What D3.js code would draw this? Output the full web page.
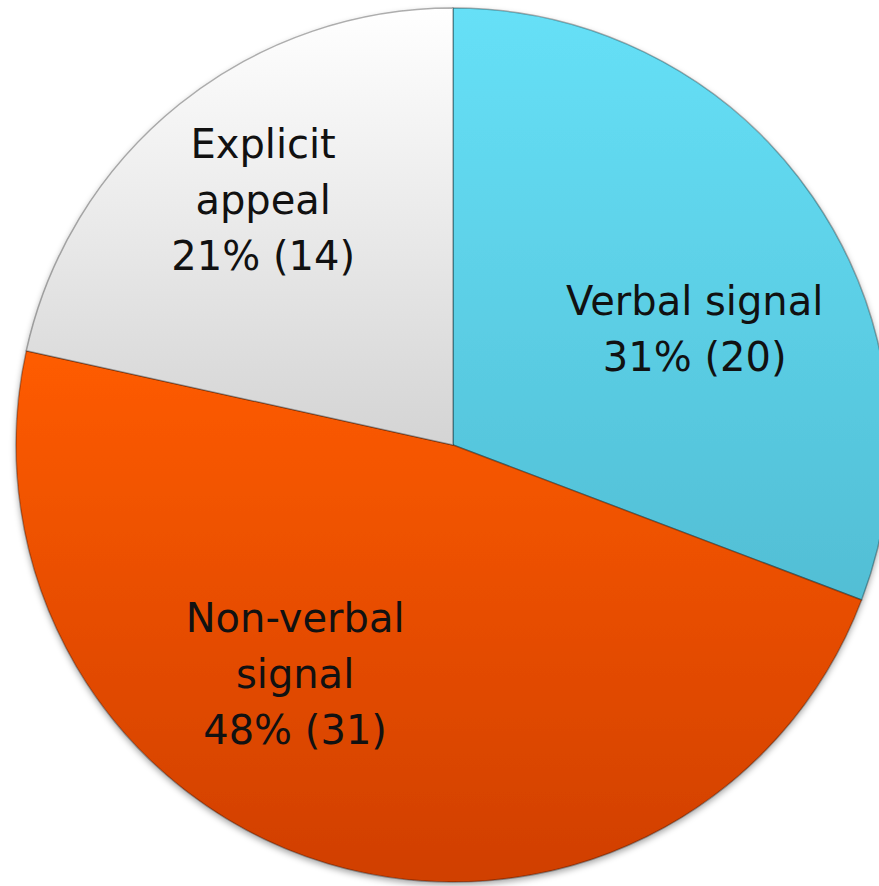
<!DOCTYPE html>
<html lang="en">
<head>
    <meta charset="UTF-8">
    <title>Signal types</title>
    <script src="https://d3js.org/d3.v7.min.js"></script>
    <style>
        body { margin: 0; background: #fff; }
        svg { display: block; }
        .label { font-family: "DejaVu Sans", Verdana, sans-serif; font-size: 40px; fill: #111; text-anchor: middle; }
    </style>
</head>
<body>
<div id="chart"></div>
<script>
    // data
    const categories = ["Verbal signal", "Non-verbal signal", "Explicit appeal"];
    const counts = [20, 31, 14];
    const percents = ["31%", "48%", "21%"];
    const labelLines = [["Verbal signal"], ["Non-verbal", "signal"], ["Explicit", "appeal"]];

    // colours: top / bottom of each slice gradient
    const topColors = ["#66e0f7", "#ff5c00", "#ffffff"];
    const bottomColors = ["#48aec4", "#d03f00", "#d4d4d4"];

    const width = 879, height = 886;
    const cx = 453, cy = 445, r = 437;

    const svg = d3.select("#chart").append("svg")
        .attr("width", width)
        .attr("height", height);

    const defs = svg.append("defs");

    // soft shadow under the pie
    const shadow = defs.append("filter").attr("id", "shadow")
        .attr("x", "-10%").attr("y", "-10%").attr("width", "120%").attr("height", "120%");
    shadow.append("feDropShadow")
        .attr("dx", 0).attr("dy", 3).attr("stdDeviation", 3)
        .attr("flood-color", "#000").attr("flood-opacity", 0.35);

    categories.forEach((c, i) => {
        const g = defs.append("linearGradient")
            .attr("id", "grad" + i)
            .attr("gradientUnits", "userSpaceOnUse")
            .attr("x1", 0).attr("x2", 0)
            .attr("y1", i === 1 ? -100 : -r).attr("y2", i === 2 ? 0 : r);
        g.append("stop").attr("offset", "0%").attr("stop-color", topColors[i]);
        g.append("stop").attr("offset", "100%").attr("stop-color", bottomColors[i]);
    });

    const pie = d3.pie().sort(null).value(d => d)(counts);
    const arc = d3.arc().innerRadius(0).outerRadius(r);

    const g = svg.append("g").attr("transform", `translate(${cx},${cy})`);

    g.append("g").attr("filter", "url(#shadow)")
        .selectAll("path")
        .data(pie)
        .enter()
        .append("path")
        .attr("d", arc)
        .attr("fill", (d, i) => `url(#grad${i})`)
        .attr("stroke", "rgba(0,0,0,0.3)")
        .attr("stroke-width", 1.5)
        .attr("stroke-linejoin", "round");

    // labels: radius and angle tweak relative to slice middle
    const labelRadius = [268, 278, 310];
    const angleShift = [9, 18, 1];
    const lineH = 56;

    pie.forEach((d, i) => {
        const mid = (d.startAngle + d.endAngle) / 2 + angleShift[i] * Math.PI / 180;
        const x = labelRadius[i] * Math.sin(mid);
        const y = -labelRadius[i] * Math.cos(mid);
        const lines = labelLines[i].concat([`${percents[i]} (${counts[i]})`]);
        const t = g.append("text").attr("class", "label")
            .attr("x", x)
            .attr("y", y - (lines.length - 1) * lineH / 2 + 14);
        lines.forEach((s, k) => {
            t.append("tspan").attr("x", x).attr("dy", k === 0 ? 0 : lineH).text(s);
        });
    });
</script>
</body>
</html>
